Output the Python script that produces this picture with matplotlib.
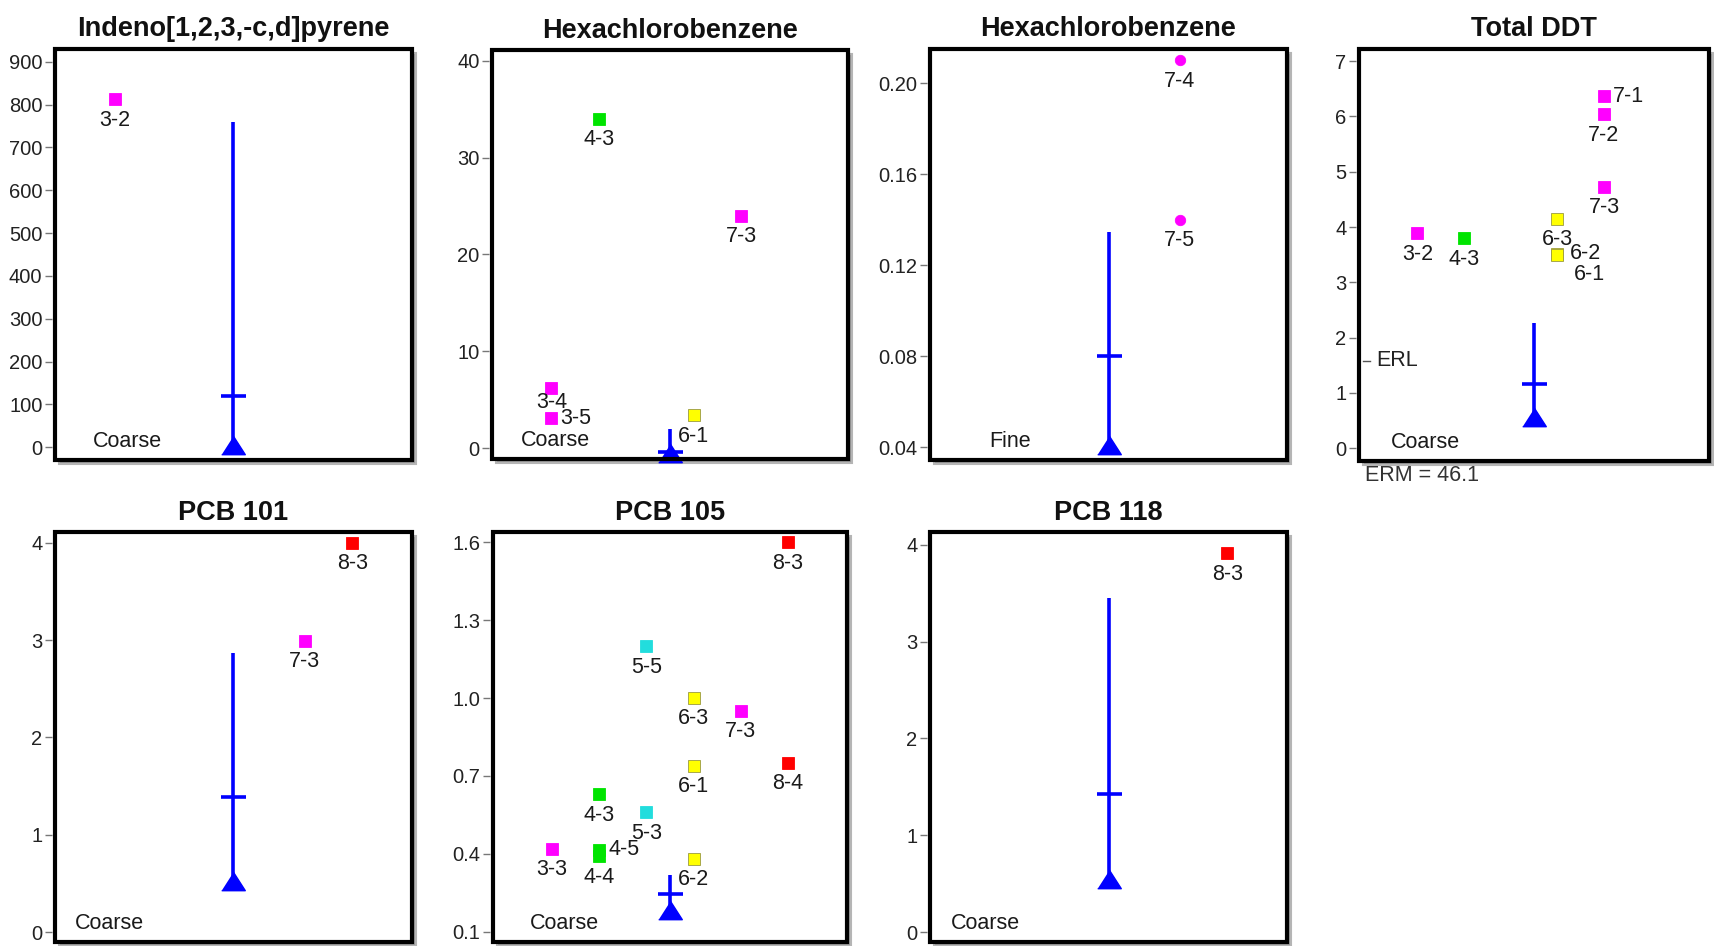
import matplotlib
matplotlib.use("Agg")
import matplotlib.pyplot as plt
import matplotlib.transforms as mtransforms
from matplotlib.patches import Rectangle
from matplotlib import font_manager

names = {f.name for f in font_manager.fontManager.ttflist}
FONT = "Liberation Sans" if "Liberation Sans" in names else "DejaVu Sans"
plt.rcParams["font.family"] = [FONT, "DejaVu Sans"]

# ---------------- data ----------------
titles = ["Indeno[1,2,3,-c,d]pyrene", "Hexachlorobenzene", "Hexachlorobenzene",
          "Total DDT", "PCB 101", "PCB 105", "PCB 118"]
fractions = ["Coarse", "Coarse", "Fine", "Coarse", "Coarse", "Coarse", "Coarse"]

p1_labels = ["3-2"]
p1_values = [813]
p2_labels = ["4-3", "7-3", "3-4", "3-5", "6-1"]
p2_values = [34.0, 24.0, 6.2, 3.1, 3.4]
p3_labels = ["7-4", "7-5"]
p3_values = [0.21, 0.14]
p4_labels = ["7-1", "7-2", "7-3", "6-3", "6-2", "6-1", "3-2", "4-3"]
p4_values = [6.37, 6.04, 4.73, 4.15, 3.52, 3.49, 3.89, 3.80]
p5_labels = ["8-3", "7-3"]
p5_values = [4.0, 2.99]
p6_labels = ["8-3", "5-5", "6-3", "7-3", "6-1", "8-4", "4-3", "5-3", "3-3", "4-5", "4-4", "6-2"]
p6_values = [1.60, 1.20, 1.00, 0.95, 0.74, 0.75, 0.63, 0.56, 0.42, 0.415, 0.39, 0.38]
p7_labels = ["8-3"]
p7_values = [3.91]

# reference summary (low / mean / high) per panel
ref_low = [5, -0.45, 0.041, 0.57, 0.53, 0.185, 0.555]
ref_mean = [119, -0.35, 0.080, 1.17, 1.39, 0.245, 1.43]
ref_high = [759, 2.0, 0.1346, 2.27, 2.87, 0.32, 3.45]

yticks = [
    [0, 100, 200, 300, 400, 500, 600, 700, 800, 900],
    [0, 10, 20, 30, 40],
    [0.04, 0.08, 0.12, 0.16, 0.20],
    [0, 1, 2, 3, 4, 5, 6, 7],
    [0, 1, 2, 3, 4],
    [0.1, 0.4, 0.7, 1.0, 1.3, 1.6],
    [0, 1, 2, 3, 4],
]
ytick_fmt = ["%d", "%d", "%.2f", "%d", "%d", "%.1f", "%d"]
ylims = [(-30, 930), (-1.1, 41.1), (0.0343, 0.215), (-0.23, 7.22),
         (-0.10, 4.11), (0.06, 1.64), (-0.10, 4.13)]

erl_value = 1.58
erm_text = "ERM = 46.1"

# ---------------- styles / layout ----------------
group_colors = {3: "#FF00FF", 4: "#00E400", 5: "#22DDDD", 6: "#FFFF00",
                7: "#FF00FF", 8: "#FF0000"}
p_labels = [p1_labels, p2_labels, p3_labels, p4_labels, p5_labels, p6_labels, p7_labels]
p_values = [p1_values, p2_values, p3_values, p4_values, p5_values, p6_values, p7_values]
placements = [
    ["b"],
    ["b", "b", "b2", "r", "b"],
    ["b", "b"],
    ["r", "b", "b", "b", "r2", "br", "b", "b"],
    ["b", "b"],
    ["b", "b", "b", "b", "b", "b", "b", "b", "b", "r", "b", "b"],
    ["b"],
]
offsets = {"b": ((0, -7.5), "center", "top"),
           "b2": ((0, -3.0), "center", "top"),
           "r": ((6.5, 0), "left", "center"),
           "r2": ((9, 0), "left", "center"),
           "br": ((12, -13.5), "left", "center")}
markers = ["s", "s", "o", "s", "s", "s", "s"]
frac_x = [0.105, 0.08, 0.165, 0.09, 0.056, 0.104, 0.058]

W, H = 1715, 946
# pixel boxes: left, top, width, height
boxes = [(55, 49, 357, 411), (492, 50, 356, 409), (930, 49, 357, 411), (1359, 49, 350, 412),
         (55, 532, 357, 410), (493, 532, 354, 410), (930, 532, 357, 410)]

fig = plt.figure(figsize=(W / 100, H / 100), dpi=100)
fig.patch.set_facecolor("white")

for i in range(7):
    L, T, bw, bh = boxes[i]
    ax = fig.add_axes([L / W, 1 - (T + bh) / H, bw / W, bh / H])
    ax.set_xlim(1.75, 9.25)
    ax.set_ylim(*ylims[i])
    for s in ax.spines.values():
        s.set_visible(False)
    ax.spines["left"].set_position(("outward", 2.5))
    ax.set_xticks([])
    ax.set_yticks(yticks[i])
    ax.set_yticklabels([ytick_fmt[i] % v for v in yticks[i]])
    ax.tick_params(axis="y", length=5, width=1, color="#777777", pad=1.5,
                   labelsize=14.5, labelcolor="#222222")

    # frame and drop shadow
    shadow_tr = ax.transAxes + mtransforms.ScaledTranslation(4 / 100, -4 / 100, fig.dpi_scale_trans)
    shadow = Rectangle((0, 0), 1, 1, transform=shadow_tr, facecolor="#9a9a9a",
                       edgecolor="#b5b5b5", lw=1.5, zorder=-1)
    fig.add_artist(shadow)
    ax.add_patch(Rectangle((0, 0), 1, 1, transform=ax.transAxes, fill=False,
                           lw=3, ec="black", clip_on=False, zorder=10))

    ax.set_title(titles[i], fontsize=19.5, fontweight="bold", color="#111111", pad=9)

    # reference glyph
    ax.plot([5.5, 5.5], [ref_low[i], ref_high[i]], color="#0000FF", lw=2.6,
            solid_capstyle="butt", zorder=4, clip_on=False)
    ax.plot([5.5], [ref_mean[i]], marker="_", ms=18, mew=2.6, color="#0000FF",
            zorder=5, clip_on=False)
    ax.plot([5.5], [ref_low[i]], marker=[(-1, -0.78), (1, -0.78), (0, 0.78)], ms=17,
            color="#0000FF", mec="#0000FF", zorder=5, ls="none", clip_on=False)

    # stations
    for lab, val, plc in zip(p_labels[i], p_values[i], placements[i]):
        g = int(lab.split("-")[0])
        col = group_colors[g]
        ec = "#9a9a40" if g == 6 else col
        ms = 7.5 if markers[i] == "o" else 8.3
        ax.plot([g], [val], marker=markers[i], ms=ms, color=col, mec=ec, mew=0.6,
                ls="none", zorder=6, clip_on=False)
        (dx, dy), ha, va = offsets[plc]
        ax.annotate(lab, (g, val), xytext=(dx, dy), textcoords="offset points",
                    ha=ha, va=va, fontsize=15.5, color="#1a1a1a", zorder=7,
                    annotation_clip=False)

    ax.text(frac_x[i], 0.045, fractions[i], transform=ax.transAxes, fontsize=15.5,
            color="#1a1a1a", ha="left", va="center")

    if i == 3:
        ax.plot([0.012, 0.032], [erl_value, erl_value], transform=ax.get_yaxis_transform(),
                color="#555555", lw=1)
        ax.text(0.05, erl_value, "ERL", transform=ax.get_yaxis_transform(), fontsize=15.5,
                color="#222222", ha="left", va="center")
        ax.text(0.018, -0.035, erm_text, transform=ax.transAxes, fontsize=15.5,
                color="#333333", ha="left", va="center")

fig.savefig("out.png", dpi=100, facecolor="white")
